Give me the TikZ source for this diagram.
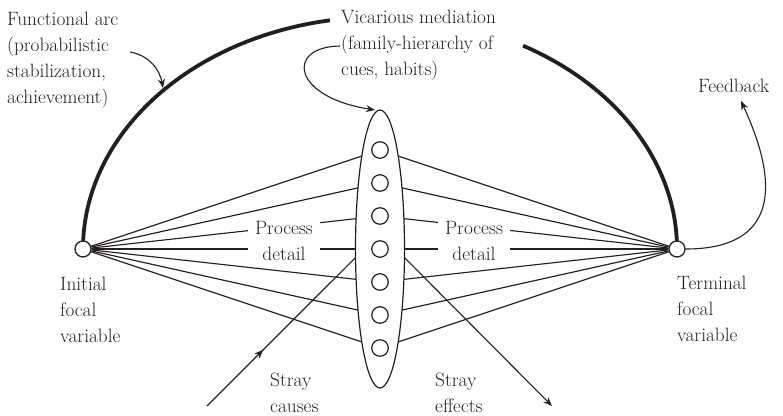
\documentclass[tikz,border=0pt]{standalone}
\usetikzlibrary{shapes.geometric,arrows.meta,decorations.markings}
\definecolor{ink}{RGB}{35,31,32}
\pgfdeclarelayer{bg}
\pgfsetlayers{bg,main}
\begin{document}
\begin{tikzpicture}[x=1pt,y=1pt,
  every node/.style={text=ink},
  lbl/.style={font=\fontsize{19.3}{26}\selectfont, align=left, inner sep=0pt},
  focal/.style={circle, draw=ink, fill=white, line width=1.3pt, minimum size=16pt, inner sep=0pt},
  cue/.style={circle, draw=ink, line width=1.2pt, minimum size=16.5pt, inner sep=0pt},
  fan/.style={draw=ink, line width=1.15pt},
  arcline/.style={draw=ink, line width=3.8pt},
  tip/.style={-{Stealth[length=9pt,width=7pt]}, draw=ink, line width=1.1pt},
]
\useasboundingbox (0,0) rectangle (783,415);

% focal variables and the mediating ellipse of cues
\node[focal] (I) at (83,166) {};
\node[focal] (T) at (677,166) {};
\node[ellipse, draw=ink, fill=white, line width=1.2pt, minimum width=49pt,
      minimum height=278pt, inner sep=0pt] (M) at (380,166) {};
\foreach \k in {1,...,7} \node[cue] (c\k) at (380,{265-33*(\k-1)}) {};

% fan of process lines and the functional arc, behind the nodes
\begin{pgfonlayer}{bg}
  \foreach \k in {1,...,7} {
    \draw[fan] (I) -- (c\k.center);
    \draw[fan] (T) -- (c\k.center);
  }
  \draw[arcline] (I.center) arc[start angle=180, end angle=99.7, x radius=297, y radius=232];
  \draw[arcline] (T.center) arc[start angle=0, end angle=61.2, x radius=297, y radius=232];
\end{pgfonlayer}

% process detail labels
\node[lbl, align=center, fill=white, inner xsep=7pt, inner ysep=1pt] (pdl) at (284,174) {Process\\detail};
\node[lbl, align=center, fill=white, inner xsep=7pt, inner ysep=1pt] (pdr) at (474,174) {Process\\detail};

% text labels
\node[lbl, anchor=north west] (fa) at (7,403) {Functional arc\\(probabilistic\\stabilization,\\achievement)};
\node[lbl, anchor=north west] (vm) at (341,405) {Vicarious mediation\\(family-hierarchy of\\cues, habits)};
\node[lbl, anchor=base west] (fb) at (698,322) {Feedback};
\node[lbl, anchor=north west] (il) at (60,138) {Initial\\focal\\variable};
\node[lbl, anchor=north west] (tl) at (677,139) {Terminal\\focal\\variable};
\node[lbl, anchor=north west] (scl) at (270,42) {Stray\\causes};
\node[lbl, anchor=north west] (sel) at (435,42) {Stray\\effects};

% pointer arrows
\coordinate (faS) at (130,363);
\coordinate (faE) at (163,327);
\draw[tip] (faS) to[out=-10,in=100] (faE);

\coordinate (vmS) at (340,369);
\coordinate (vmE) at (375,305);
\draw[tip] (vmS) .. controls (285,368) and (292,318) .. (vmE);

\coordinate (fbE) at (741,314);
\draw[tip] (T) .. controls (778,166) and (780,230) .. (fbE);

% stray causes and effects
\coordinate (scS) at (207,9);
\draw[fan, decoration={markings, mark=at position 0.38 with {\arrow{Stealth[length=9pt,width=7pt]}}},
      postaction={decorate}] (scS) -- (M.200);
\coordinate (seE) at (552,9);
\draw[tip] (M.340) -- (seE);
\end{tikzpicture}
\end{document}
